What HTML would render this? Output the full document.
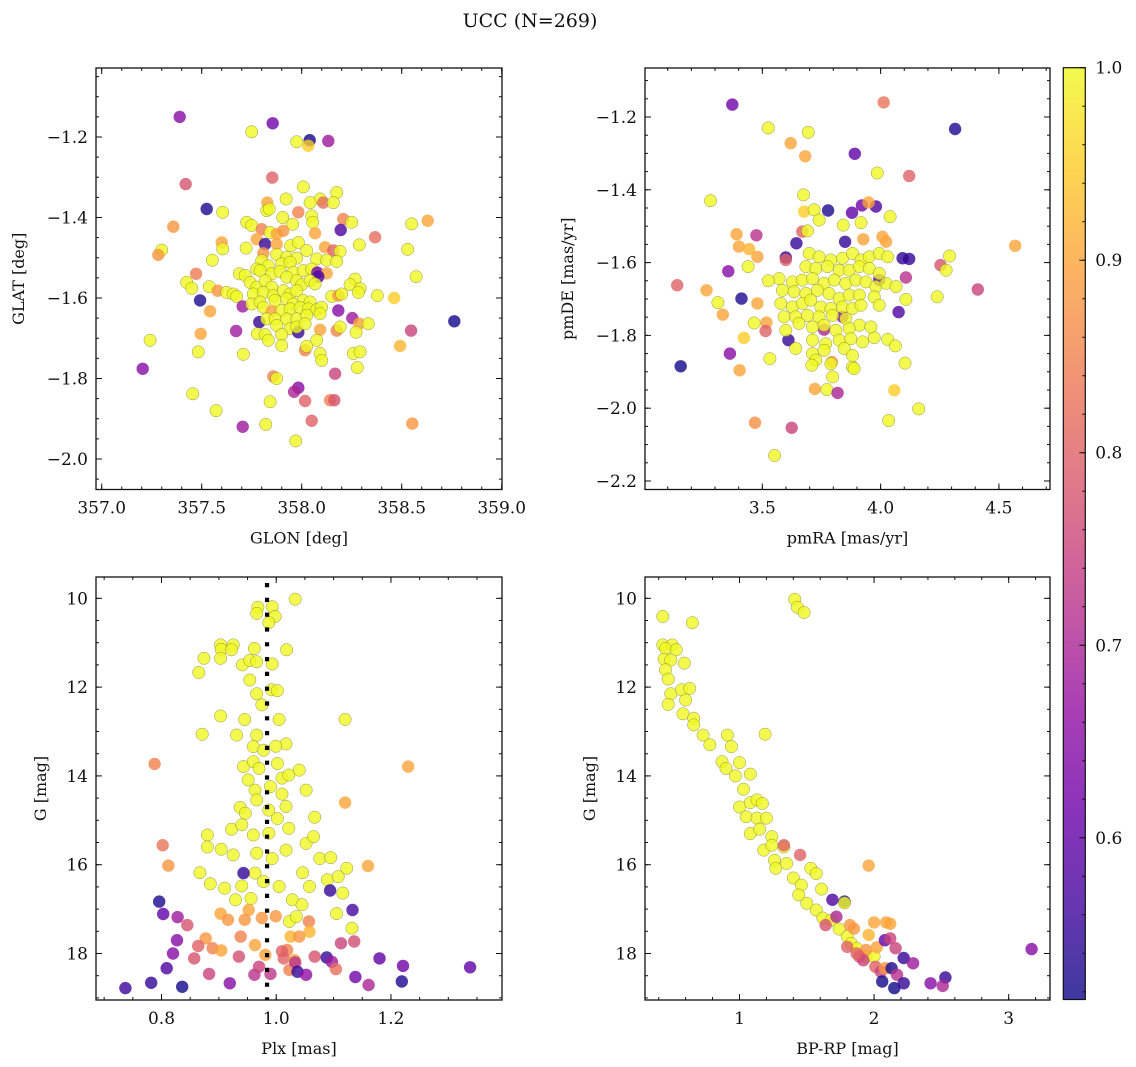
<!DOCTYPE html>
<html><head><meta charset="utf-8">
<style>
html,body{margin:0;padding:0;background:#fff;}
svg{display:block;}
text{font-family:"DejaVu Serif","Liberation Serif",serif;}
</style></head>
<body>
<svg id="fig" width="1136" height="1067" viewBox="0 0 1136 1067" xmlns="http://www.w3.org/2000/svg" font-family="DejaVu Serif, Liberation Serif, serif">
<rect x="0" y="0" width="1136" height="1067" fill="#fff"/>
<text x="530" y="27" font-size="19" text-anchor="middle" fill="#111" font-family="DejaVu Serif, Liberation Serif, serif">UCC (N=269)</text>
</svg>
<script>
// ---------- Panel 1 data: GLON / GLAT / probability ----------
const p1glon = [357.39,357.855,357.75,357.975,358.04,358.033,358.133,357.853,357.42,358.008,358.175,357.922,358.092,358.108,358.158,358.042,357.828,357.825,357.838,357.525,357.605,357.983,358.05,358.055,357.905,357.955,358.208,358.25,357.725,357.75,357.358,358.55,358.63,358.195,358.067,358.367,358.288,357.80,357.842,357.875,357.908,357.775,357.817,357.875,357.60,357.605,357.30,357.283,357.722,357.808,357.945,357.983,358.025,358.117,358.158,358.192,358.53,357.553,357.875,357.925,357.975,358.075,358.125,358.175,357.80,357.775,357.833,357.90,357.942,357.472,357.688,357.717,357.792,357.85,357.892,357.958,358.008,358.05,358.078,358.125,358.083,358.572,358.267,357.425,357.45,357.538,357.58,357.625,357.658,357.675,357.742,357.775,357.817,357.85,357.925,357.975,358.0,358.042,358.067,357.758,357.808,357.858,357.908,357.942,357.975,358.242,358.292,358.283,358.15,358.183,358.20,358.378,358.462,357.492,357.705,357.75,357.792,357.867,357.925,357.958,358.008,358.042,357.542,358.183,357.808,357.85,357.90,357.942,357.992,358.033,358.075,358.10,357.788,357.825,357.867,357.925,357.975,358.025,358.092,358.253,358.288,358.333,358.763,357.672,358.547,358.175,358.192,358.092,358.272,357.875,357.942,357.983,357.975,358.017,357.495,357.242,357.778,357.817,357.833,357.90,357.90,358.075,358.017,358.025,358.492,357.483,357.708,358.092,358.10,358.258,358.292,358.278,358.167,357.205,357.858,357.875,357.983,357.962,357.455,357.842,358.017,358.142,358.163,357.572,357.705,357.82,358.05,358.553,357.97];
const p1glat = [-1.150,-1.166,-1.187,-1.212,-1.208,-1.222,-1.210,-1.301,-1.317,-1.324,-1.338,-1.354,-1.354,-1.363,-1.363,-1.363,-1.363,-1.383,-1.379,-1.379,-1.387,-1.387,-1.396,-1.412,-1.400,-1.417,-1.404,-1.412,-1.412,-1.420,-1.423,-1.416,-1.408,-1.431,-1.439,-1.449,-1.468,-1.429,-1.437,-1.441,-1.433,-1.454,-1.466,-1.466,-1.462,-1.478,-1.481,-1.493,-1.476,-1.489,-1.470,-1.462,-1.482,-1.474,-1.482,-1.484,-1.479,-1.506,-1.492,-1.499,-1.501,-1.503,-1.506,-1.509,-1.507,-1.528,-1.520,-1.515,-1.511,-1.540,-1.540,-1.544,-1.532,-1.540,-1.534,-1.536,-1.532,-1.528,-1.537,-1.539,-1.547,-1.547,-1.553,-1.561,-1.576,-1.572,-1.582,-1.586,-1.590,-1.596,-1.561,-1.573,-1.557,-1.573,-1.548,-1.557,-1.567,-1.557,-1.565,-1.590,-1.586,-1.594,-1.582,-1.590,-1.582,-1.567,-1.577,-1.586,-1.596,-1.594,-1.590,-1.594,-1.600,-1.606,-1.621,-1.615,-1.610,-1.606,-1.602,-1.615,-1.606,-1.610,-1.633,-1.631,-1.623,-1.633,-1.631,-1.627,-1.624,-1.627,-1.629,-1.623,-1.660,-1.652,-1.652,-1.652,-1.652,-1.643,-1.639,-1.650,-1.664,-1.664,-1.658,-1.682,-1.681,-1.681,-1.672,-1.679,-1.685,-1.668,-1.676,-1.685,-1.672,-1.664,-1.689,-1.705,-1.689,-1.691,-1.705,-1.691,-1.718,-1.705,-1.730,-1.720,-1.719,-1.734,-1.740,-1.738,-1.755,-1.738,-1.734,-1.773,-1.788,-1.776,-1.795,-1.800,-1.823,-1.833,-1.838,-1.858,-1.856,-1.854,-1.854,-1.880,-1.920,-1.914,-1.905,-1.912,-1.955];
const p1prob = [.65,.62,1,1,.52,.95,.68,.8,.78,1,1,1,1,.82,1,1,.9,1,1,.53,1,.85,1,1,1,1,.85,1,1,1,.88,1,.9,.58,.9,.82,1,.85,1,.9,.88,.9,.55,.9,.9,1,1,.88,1,.88,1,1,1,.9,.8,1,1,1,1,1,1,1,1,1,1,1,1,1,1,.84,1,1,1,1,1,1,1,1,.62,.9,.58,1,1,1,1,1,.88,1,1,1,1,1,1,1,1,1,1,1,1,1,1,1,1,1,1,1,1,1,1,.88,1,1,.95,.53,.68,1,1,1,1,1,1,1,.9,.65,1,.9,1,1,1,1,1,1,.55,1,1,1,1,1,1,.68,.9,1,.52,.68,.75,.85,1,.9,1,1,1,.55,1,1,.9,1,1,1,1,1,1,1,.85,1,.92,1,1,1,1,1,1,1,.75,.65,.85,1,.65,.7,1,1,.8,.85,.78,1,.68,1,.8,.88,1];

// ---------- Panel 2 data: pmRA / pmDE / probability ----------
const p2pmra = [3.373,4.013,4.315,3.525,3.694,3.620,3.681,3.891,3.986,4.121,3.281,3.674,3.778,3.879,3.921,3.980,3.949,4.040,3.677,3.719,3.740,3.917,3.842,3.391,3.475,3.401,3.444,3.479,3.440,3.644,3.669,3.691,3.599,3.599,3.356,3.140,3.264,3.312,3.333,3.412,3.479,3.465,3.517,3.514,3.422,3.363,3.155,3.404,3.532,3.610,3.469,3.624,3.552,3.722,3.773,3.818,3.794,3.881,3.850,3.927,4.008,4.023,4.093,4.121,4.107,4.076,4.253,4.291,4.277,4.411,4.569,4.239,4.107,4.058,4.161,4.034,4.103,4.030,4.062,3.973,3.761,3.839,3.994,3.698,3.740,3.790,3.839,3.881,3.917,3.952,3.994,4.030,3.684,3.726,3.775,3.825,3.867,3.910,3.952,3.994,3.571,3.525,3.627,3.669,3.712,3.761,3.804,3.853,3.895,3.938,3.980,4.023,4.065,3.585,3.634,3.684,3.733,3.782,3.825,3.867,3.910,3.973,3.578,3.627,3.669,3.705,3.747,3.790,3.839,3.881,3.917,3.994,3.592,3.641,3.691,3.740,3.797,3.853,3.910,3.959,3.599,3.655,3.712,3.761,3.811,3.867,3.712,3.768,3.825,3.874,3.924,3.641,3.712,3.761,3.846,3.726,3.790,3.881,3.888,3.797,3.709];
const p2pmde = [-1.166,-1.160,-1.233,-1.230,-1.242,-1.272,-1.308,-1.301,-1.354,-1.362,-1.430,-1.414,-1.457,-1.463,-1.443,-1.446,-1.435,-1.474,-1.460,-1.455,-1.483,-1.490,-1.497,-1.522,-1.525,-1.556,-1.563,-1.584,-1.611,-1.547,-1.515,-1.513,-1.586,-1.593,-1.624,-1.662,-1.676,-1.710,-1.743,-1.699,-1.712,-1.766,-1.765,-1.788,-1.807,-1.850,-1.885,-1.896,-1.864,-1.813,-2.040,-2.054,-2.130,-1.947,-1.949,-1.958,-1.873,-1.887,-1.543,-1.536,-1.529,-1.543,-1.588,-1.590,-1.641,-1.736,-1.607,-1.582,-1.621,-1.674,-1.554,-1.694,-1.701,-1.951,-2.002,-2.034,-1.876,-1.811,-1.829,-1.806,-1.784,-1.749,-1.648,-1.575,-1.584,-1.593,-1.588,-1.575,-1.593,-1.584,-1.575,-1.584,-1.611,-1.616,-1.611,-1.621,-1.621,-1.611,-1.616,-1.630,-1.644,-1.650,-1.653,-1.648,-1.644,-1.657,-1.648,-1.657,-1.648,-1.653,-1.666,-1.657,-1.666,-1.676,-1.680,-1.685,-1.676,-1.685,-1.699,-1.689,-1.689,-1.694,-1.712,-1.722,-1.712,-1.703,-1.722,-1.726,-1.722,-1.726,-1.717,-1.717,-1.749,-1.749,-1.745,-1.749,-1.745,-1.754,-1.772,-1.777,-1.786,-1.767,-1.777,-1.772,-1.786,-1.781,-1.813,-1.823,-1.813,-1.809,-1.818,-1.836,-1.850,-1.841,-1.836,-1.868,-1.878,-1.855,-1.891,-1.914,-1.882];
const p2prob = [.62,.83,.53,1,1,.9,.9,.6,1,.8,1,1,.53,.6,.62,.58,.9,1,.95,1,1,1,1,.9,.72,.9,.92,.9,1,.55,.8,1,.55,.8,.65,.8,.9,1,.9,.53,.9,1,.9,.8,.95,.65,.52,.9,1,.55,.87,.75,1,.9,1,.7,.88,1,.55,.9,.9,.9,.55,.55,.72,.58,.78,1,1,.75,.9,1,1,.95,1,1,1,1,1,1,.7,.65,.6,1,1,1,1,1,1,1,1,1,1,1,1,1,1,1,1,1,1,1,1,1,1,1,1,1,1,1,1,1,1,1,1,1,1,1,1,1,1,1,1,1,1,1,1,1,1,1,1,1,1,1,1,1,1,1,1,1,1,1,1,1,1,1,1,1,1,1,1,1,1,1,1,1,1,1,1,1,1];

// ---------- Panel 3 data: Plx / G / probability ----------
const p3plx = [1.033,0.968,0.993,0.966,0.998,0.987,0.903,0.925,0.904,0.922,0.874,0.903,0.962,1.018,0.941,0.954,0.966,0.993,0.865,0.954,0.992,1.002,0.966,0.975,0.903,0.945,1.005,1.12,0.871,0.931,0.966,1.017,0.96,0.978,0.999,0.943,0.96,1.002,0.97,1.01,1.022,1.04,0.951,0.963,0.99,1.052,1.01,0.966,0.937,0.946,0.987,1.017,1.067,1.002,0.922,0.94,0.96,0.987,1.022,1.052,1.065,0.88,0.88,0.904,0.925,0.966,0.993,1.017,1.076,1.095,0.867,0.885,0.91,0.94,0.963,0.978,1.005,1.046,1.058,1.089,1.108,1.123,1.116,0.929,0.956,1.028,1.045,1.105,1.132,1.023,1.035,1.16,0.903,0.952,0.916,0.945,0.975,0.999,1.057,1.058,1.025,1.04,0.938,0.963,0.981,0.877,0.889,0.904,1.019,1.013,1.023,1.032,0.788,1.23,1.12,0.802,0.812,0.943,0.796,0.803,0.828,0.845,0.827,0.82,0.809,0.857,0.864,0.883,0.737,0.782,0.836,0.919,0.935,0.962,0.99,0.97,1.01,1.033,1.037,1.052,1.067,1.088,1.097,1.104,1.094,1.133,1.113,1.136,1.138,1.161,1.18,1.221,1.219,1.338];
const p3g = [10.02,10.2,10.19,10.34,10.41,10.55,11.05,11.05,11.15,11.16,11.35,11.35,11.13,11.16,11.5,11.4,11.43,11.48,11.67,11.84,12.06,12.08,12.15,12.4,12.65,12.73,12.73,12.73,13.06,13.08,13.08,13.28,13.34,13.42,13.33,13.79,13.68,13.72,13.83,14.05,13.98,13.87,14.09,14.32,14.24,14.32,14.41,14.54,14.71,14.84,14.77,14.69,14.93,14.96,15.2,15.1,15.33,15.29,15.18,15.52,15.37,15.33,15.6,15.65,15.78,15.74,15.86,15.67,15.86,15.84,16.18,16.43,16.53,16.48,16.19,16.38,16.49,16.18,16.49,16.34,16.27,16.08,16.64,16.79,16.76,16.79,16.9,17.1,17.43,17.28,17.17,16.03,17.1,17.02,17.24,17.24,17.2,17.16,17.28,17.51,17.62,17.62,17.62,17.81,18.03,17.66,17.88,17.93,17.92,18.11,18.37,18.15,13.73,13.79,14.6,15.56,16.02,16.19,16.83,17.11,17.18,17.36,17.7,18.0,18.33,18.11,17.83,18.46,18.78,18.66,18.75,18.67,18.07,18.48,18.46,18.3,17.95,18.2,18.41,18.48,18.07,18.09,18.19,18.35,16.58,17.02,17.77,17.73,18.53,18.71,18.11,18.28,18.63,18.31];
const p3prob = [1,1,1,1,1,1,1,1,1,1,1,1,1,1,1,1,1,1,1,1,1,1,1,1,1,1,1,1,1,1,1,1,1,1,1,1,1,1,1,1,1,1,1,1,1,1,1,1,1,1,1,1,1,1,1,1,1,1,1,1,1,1,1,1,1,1,1,1,1,1,1,1,1,1,1,1,1,1,1,1,1,1,1,1,1,1,1,1,1,1,1,.9,.9,.9,.88,.88,.88,.88,.85,.92,.92,.88,.85,.9,.9,.88,.85,.9,.85,.8,.85,.9,.85,.9,.9,.83,.88,.55,.53,.6,.68,.78,.65,.65,.58,.78,.8,.75,.56,.55,.52,.65,.77,.72,.73,.75,.8,.72,.55,.66,.78,.55,.68,.82,.55,.57,.75,.77,.62,.7,.6,.62,.53,.6];

// ---------- Panel 4 data: BP-RP / G / probability ----------
const p4bprp = [1.41,1.43,1.48,0.43,0.65,0.43,0.50,0.45,0.53,0.44,0.49,0.59,0.45,0.47,0.49,0.47,0.57,0.63,0.60,0.58,0.66,0.66,1.19,0.73,0.78,0.91,0.94,0.87,0.90,1.0,1.08,0.97,1.03,1.0,1.08,1.13,1.17,1.05,1.13,1.20,1.08,1.15,1.24,1.18,1.24,1.33,1.26,1.27,1.35,1.40,1.46,1.53,1.57,1.61,1.44,1.50,1.57,1.62,1.68,1.74,1.80,1.83,1.87,1.94,2.0,1.96,1.33,1.45,1.69,1.78,1.78,1.72,1.64,2.0,2.09,2.12,1.96,1.82,1.85,1.94,2.02,1.80,1.89,2.08,2.12,2.16,2.22,2.29,2.01,2.05,2.08,2.13,2.17,2.06,2.15,2.22,2.42,2.53,2.51,3.17,1.92,1.87];
const p4g = [10.02,10.2,10.32,10.41,10.55,11.05,11.05,11.13,11.16,11.37,11.39,11.46,11.61,11.82,12.15,12.39,12.06,12.03,12.29,12.6,12.7,12.85,13.06,13.08,13.3,13.08,13.34,13.68,13.83,13.7,13.96,14.0,14.3,14.7,14.6,14.54,14.62,14.92,14.95,14.95,15.3,15.2,15.37,15.67,15.56,15.6,15.9,16.08,15.97,16.3,16.46,16.08,16.2,16.55,16.68,16.87,17.02,17.2,17.25,17.45,17.62,17.77,17.88,18.07,18.07,16.02,15.56,15.78,16.79,16.83,16.86,17.17,17.36,17.3,17.3,17.33,17.58,17.36,17.44,17.92,17.86,17.85,18.07,17.7,17.66,17.88,18.1,18.22,18.3,18.41,18.33,18.33,18.48,18.63,18.78,18.67,18.67,18.54,18.73,17.9,18.15,18.0];
const p4prob = [1,1,1,1,1,1,1,1,1,1,1,1,1,1,1,1,1,1,1,1,1,1,1,1,1,1,1,1,1,1,1,1,1,1,1,1,1,1,1,1,1,1,1,1,1,1,1,1,1,1,1,1,1,1,1,1,1,1,1,1,1,1,1,1,1,.9,.8,.8,.58,.53,1,.7,.78,.9,.9,.9,.92,.88,.88,.88,.9,.8,.8,.6,.75,.75,.55,.68,.8,.75,.88,.53,.72,.52,.5,.55,.65,.55,.7,.65,.75,.8];

// ---------- colour bar ticks ----------
const cbTicks = [0.6,0.7,0.8,0.9,1.0];
const cbMin = 0.516, cbMax = 1.0;

const NS = "http://www.w3.org/2000/svg";
const FONT = "DejaVu Serif, Liberation Serif, serif";
const svg = document.getElementById('fig');
function mk(tag, attrs, parent){
  const e = document.createElementNS(NS, tag);
  for (const k in attrs) e.setAttribute(k, attrs[k]);
  if (tag === 'text') e.setAttribute('font-family', FONT);
  (parent||svg).appendChild(e);
  return e;
}
const stops = [[0,[13,8,135]],[0.1,[65,4,157]],[0.2,[106,0,168]],[0.3,[143,13,164]],[0.4,[177,42,144]],[0.5,[204,71,120]],[0.6,[225,100,98]],[0.7,[242,132,75]],[0.8,[252,166,54]],[0.9,[252,206,37]],[1,[240,249,33]]];
function plasma(t){
  t = Math.max(0, Math.min(1, t));
  for (let i=1;i<stops.length;i++){
    if (t <= stops[i][0]){
      const a=stops[i-1], b=stops[i], f=(t-a[0])/(b[0]-a[0]);
      const c=a[1].map((v,j)=>Math.round(v+(b[1][j]-v)*f));
      return 'rgb('+c.join(',')+')';
    }
  }
  return 'rgb(240,249,33)';
}
function colorOf(p){ return plasma((p-cbMin)/(cbMax-cbMin)); }
function fmt(v, d){ return v.toFixed(d).replace('-', '\u2212'); }

function panel(o){
  const g = mk('g', {});
  
  
  const L=o.box[0], T=o.box[1], R=o.box[2], B=o.box[3];
  const sx = v => L + (v-o.xd[0])/(o.xd[1]-o.xd[0])*(R-L);
  const sy = o.invert ? (v => T + (v-o.yd[0])/(o.yd[1]-o.yd[0])*(B-T))
                      : (v => B - (v-o.yd[0])/(o.yd[1]-o.yd[0])*(B-T));
  const clipId = 'clip-'+o.name;
  const cp = mk('clipPath', {id: clipId}, g);
  mk('rect', {x:L, y:T, width:R-L, height:B-T}, cp);
  const pts = mk('g', {'clip-path':'url(#'+clipId+')'}, g);
  for (let i=0;i<o.xs.length;i++){
    const c = mk('circle', {cx:sx(o.xs[i]).toFixed(1), cy:sy(o.ys[i]).toFixed(1), r:6.2,
      fill:colorOf(o.ps[i]), 'fill-opacity':0.8, stroke:'#6b6b3a', 'stroke-width':0.5, 'stroke-opacity':o.ps[i]>0.97?0.7:0}, pts);
    
    
  }
  if (o.after) o.after(pts, sx, sy);
  const tk = mk('g', {stroke:'#111', 'stroke-width':1}, g);
  function ticksX(step, len, labels){
    const s = Math.ceil(o.xd[0]/step-1e-6);
    for (let k=s; k*step<=o.xd[1]+1e-9; k++){
      const v=k*step, x=sx(v);
      if (x<L-0.5||x>R+0.5) continue;
      mk('line',{x1:x,y1:B,x2:x,y2:B-len},tk);
      mk('line',{x1:x,y1:T,x2:x,y2:T+len},tk);
      if (labels){
        const t = mk('text',{x:x,y:B+24,'font-size':17,'text-anchor':'middle',fill:'#111',stroke:'none'},g);
        t.textContent = fmt(v,o.xdec);
        
        
      }
    }
  }
  function ticksY(step, len, labels){
    const lo=Math.min(o.yd[0],o.yd[1]), hi=Math.max(o.yd[0],o.yd[1]);
    const s = Math.ceil(lo/step-1e-6);
    for (let k=s; k*step<=hi+1e-9; k++){
      const v=k*step, y=sy(v);
      if (y<T-0.5||y>B+0.5) continue;
      mk('line',{x1:L,y1:y,x2:L+len,y2:y},tk);
      mk('line',{x1:R,y1:y,x2:R-len,y2:y},tk);
      if (labels){
        const t = mk('text',{x:L-8,y:y+6,'font-size':17,'text-anchor':'end',fill:'#111',stroke:'none'},g);
        t.textContent = fmt(v,o.ydec);
        
        
      }
    }
  }
  ticksX(o.xminor,3,false); ticksX(o.xmajor,6,true);
  ticksY(o.yminor,3,false); ticksY(o.ymajor,6,true);
  mk('rect',{x:L,y:T,width:R-L,height:B-T,fill:'none',stroke:'#111','stroke-width':1.3},g);
  const xl = mk('text',{x:(L+R)/2,y:B+54,'font-size':16,'text-anchor':'middle',fill:'#111'},g);
  xl.textContent = o.xlabel;
  
  
  const yx = o.ylabelX, yy=(T+B)/2;
  const yl = mk('text',{x:yx,y:yy,'font-size':16,'text-anchor':'middle',fill:'#111',transform:'rotate(-90 '+yx+' '+yy+')'},g);
  yl.textContent = o.ylabel;
  
  
}

panel({name:'glon-glat-panel', box:[96,68,502,489.5], xd:[356.9715,359.0015], yd:[-2.0758,-1.0286],
  xs:p1glon, ys:p1glat, ps:p1prob, xmajor:0.5, xminor:0.1, ymajor:0.2, yminor:0.05, xdec:1, ydec:1,
  xlabel:'GLON [deg]', ylabel:'GLAT [deg]', ylabelX:24});
panel({name:'pm-panel', box:[645,68,1050,489.5], xd:[3.004,4.716], yd:[-2.2234,-1.0654],
  xs:p2pmra, ys:p2pmde, ps:p2prob, xmajor:0.5, xminor:0.1, ymajor:0.2, yminor:0.05, xdec:1, ydec:1,
  xlabel:'pmRA [mas/yr]', ylabel:'pmDE [mas/yr]', ylabelX:573});
const plxMedian = 0.984;
panel({name:'plx-g-panel', box:[96,577,502,1000], xd:[0.6858,1.3936], yd:[9.52,19.047], invert:true,
  xs:p3plx, ys:p3g, ps:p3prob, xmajor:0.2, xminor:0.05, ymajor:2, yminor:0.5, xdec:1, ydec:0,
  xlabel:'Plx [mas]', ylabel:'G [mag]', ylabelX:46,
  after:(g,sx,sy)=>{ const l=mk('line',{x1:sx(plxMedian),x2:sx(plxMedian),y1:583,y2:1000,stroke:'#000','stroke-width':4.2,'stroke-dasharray':'4.2 10.6'},g);
      }});
panel({name:'cmd-panel', box:[645,577,1050,1000], xd:[0.298,3.307], yd:[9.52,19.047], invert:true,
  xs:p4bprp, ys:p4g, ps:p4prob, xmajor:1, xminor:0.2, ymajor:2, yminor:0.5, xdec:0, ydec:0,
  xlabel:'BP-RP [mag]', ylabel:'G [mag]', ylabelX:595});

// ---------- colour bar ----------
const cb = mk('g',{});


const defs = mk('defs',{},cb);
const lg = mk('linearGradient',{id:'cbgrad',x1:0,y1:1,x2:0,y2:0},defs);
for (let i=0;i<=20;i++){ mk('stop',{offset:(i/20), 'stop-color':plasma(i/20)},lg); }
const cT=67.7, cB=999.5, cL=1063.3, cR=1085.3;
mk('rect',{x:cL,y:cT,width:cR-cL,height:cB-cT,fill:'url(#cbgrad)','fill-opacity':0.8},cb);
const cy = v => cB - (v-cbMin)/(cbMax-cbMin)*(cB-cT);
for (let v=0.52; v<=1.0001; v+=0.02){ mk('line',{x1:cR,x2:cR-3,y1:cy(v),y2:cy(v),stroke:'#111','stroke-width':1},cb); }
for (const v of cbTicks){
  mk('line',{x1:cR,x2:cR-6,y1:cy(v),y2:cy(v),stroke:'#111','stroke-width':1},cb);
  const t = mk('text',{x:cR+10,y:cy(v)+6,'font-size':17,fill:'#111'},cb);
  t.textContent = v.toFixed(1);
  
  
}
mk('rect',{x:cL,y:cT,width:cR-cL,height:cB-cT,fill:'none',stroke:'#111','stroke-width':1.2},cb);
</script>
</body></html>
